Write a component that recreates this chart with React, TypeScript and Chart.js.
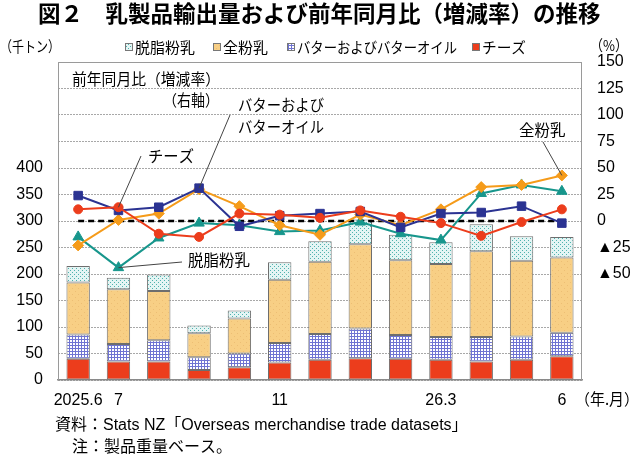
import { useEffect, useRef } from "react";
import { Chart, registerables } from "chart.js";

Chart.register(...registerables);

// 月（ラベルのない月は空文字）
const months = ["2025.6", "7", "", "", "", "11", "", "", "", "26.3", "", "", "6"];

// 輸出量（千トン）
const cheese = [40, 35, 35, 19, 24, 33, 38, 41, 40, 38, 35, 38, 45];
const butter = [46, 33, 40, 24, 26, 37, 49, 56, 45, 43, 46, 44, 44];
const wholeMilk = [98, 103, 93, 45, 66, 119, 136, 159, 141, 138, 162, 143, 142];
const skimMilk = [31, 22, 31, 15, 15, 33, 39, 47, 48, 41, 51, 46, 39];

// 前年同月比（%）
const cheeseYoY = [11, 13, -12, -15, 7, 6, 3, 10, 4, -2, -14, -1, 11];
const butterYoY = [24, 10, 13, 31, -5, 5, 7, 9, -6, 7, 8, 14, -2];
const wholeYoY = [-23, 1, 7, 30, 14, -4, -13, 6, -4, 11, 32, 34, 43];
const skimYoY = [-15, -44, -16, -2, -4, -10, -9, -1, -12, -18, 26, 34, 28];

const NUM = "'Liberation Sans', Arial, 'Noto Sans CJK JP', sans-serif";
const JP = "'Noto Sans CJK JP', 'Liberation Sans', sans-serif";

const C_CHEESE = "#EC3D1C";
const C_BUTTER = "#2B3392";
const C_WHOLE = "#F59B1A";
const C_SKIM = "#17968C";

function makePattern(kind: string) {
  const c = document.createElement("canvas");
  const g = c.getContext("2d") as CanvasRenderingContext2D;
  if (kind === "skim") {
    c.width = 4;
    c.height = 4;
    g.fillStyle = "#E4F5F4";
    g.fillRect(0, 0, 4, 4);
    g.fillStyle = "#4FB2AE";
    g.fillRect(0, 0, 1, 1);
    g.fillRect(2, 2, 1, 1);
  } else if (kind === "whole") {
    c.width = 6;
    c.height = 6;
    g.fillStyle = "#F8CF85";
    g.fillRect(0, 0, 6, 6);
    g.fillStyle = "#EDBE74";
    g.fillRect(0, 0, 1, 1);
    g.fillRect(3, 3, 1, 1);
  } else if (kind === "butter") {
    c.width = 3;
    c.height = 3;
    g.fillStyle = "#FFFFFF";
    g.fillRect(0, 0, 3, 3);
    g.fillStyle = "#6F74D2";
    g.fillRect(0, 0, 3, 1);
    g.fillRect(0, 0, 1, 3);
  } else {
    return C_CHEESE;
  }
  return g.createPattern(c, "repeat") as CanvasPattern;
}

const decorations = {
  id: "decorations",
  beforeDatasetsDraw(chart: any) {
    const { ctx, chartArea } = chart;
    ctx.save();
    ctx.strokeStyle = "#9A9A9A";
    ctx.lineWidth = 1;
    ctx.beginPath();
    ctx.moveTo(chartArea.left + 0.5, chartArea.bottom);
    ctx.lineTo(chartArea.left + 0.5, chartArea.top + 0.5);
    ctx.lineTo(chartArea.right - 0.5, chartArea.top + 0.5);
    ctx.lineTo(chartArea.right - 0.5, chartArea.bottom);
    ctx.stroke();
    ctx.restore();
  },
  beforeDatasetDraw(chart: any, args: any) {
    // 0%の破線は棒の上、折れ線の下
    if (args.index !== 3) return;
    const { ctx } = chart;
    const x = chart.scales.x;
    const y = chart.scales.y1.getPixelForValue(0);
    ctx.save();
    ctx.strokeStyle = "#000";
    ctx.lineWidth = 2.5;
    ctx.setLineDash([6, 4]);
    ctx.beginPath();
    ctx.moveTo(x.getPixelForValue(0), y);
    ctx.lineTo(x.getPixelForValue(12) + 6, y);
    ctx.stroke();
    ctx.restore();
  },
  afterDraw(chart: any) {
    const { ctx, chartArea } = chart;
    const pt = (ds: number, i: number) => chart.getDatasetMeta(ds).data[i];
    ctx.save();
    ctx.fillStyle = "#000";
    ctx.textBaseline = "middle";
    ctx.textAlign = "left";

    // タイトル
    ctx.font = `bold 22.5px ${JP}`;
    ctx.fillText("図２　乳製品輸出量および前年同月比（増減率）の推移", 38, 13, 566);

    // 単位
    ctx.font = `15px ${JP}`;
    ctx.fillText("（千トン）", 0, 46, 60);
    ctx.fillText("（%）", 590, 45, 38);

    // 凡例
    const legend = [
      { label: "脱脂粉乳", fill: makePattern("skim"), x: 125, w: 62 },
      { label: "全粉乳", fill: makePattern("whole"), x: 213, w: 50 },
      { label: "バターおよびバターオイル", fill: makePattern("butter"), x: 287, w: 160 },
      { label: "チーズ", fill: C_CHEESE, x: 472, w: 44 },
    ];
    ctx.font = `15px ${JP}`;
    for (const item of legend) {
      ctx.fillStyle = item.fill;
      ctx.fillRect(item.x, 43, 8, 8);
      ctx.strokeStyle = "#777";
      ctx.lineWidth = 1;
      ctx.strokeRect(item.x + 0.5, 43.5, 7, 7);
      ctx.fillStyle = "#000";
      ctx.fillText(item.label, item.x + 10, 47, item.w);
    }

    // 注記
    ctx.font = `15.5px ${JP}`;
    ctx.fillText("前年同月比（増減率）", chartArea.left + 14, 79, 148);
    ctx.fillText("（右軸）", 163, 100, 56);
    ctx.fillText("バターおよび", 238, 105, 86);
    ctx.fillText("バターオイル", 238, 127, 86);
    ctx.fillText("チーズ", 148, 156, 46);
    ctx.fillText("全粉乳", 519, 130, 48);
    ctx.fillText("脱脂粉乳", 188, 260, 65);

    ctx.strokeStyle = "#444";
    ctx.lineWidth = 1;
    const leader = (x: number, y: number, p: any) => {
      ctx.beginPath();
      ctx.moveTo(x, y);
      ctx.lineTo(p.x, p.y);
      ctx.stroke();
    };
    leader(141, 156, pt(0, 1));
    leader(230, 115, pt(1, 3));
    leader(543, 142, pt(2, 12));
    leader(182, 262, pt(3, 1));

    // 年.月 と 出典
    ctx.font = `15.5px ${JP}`;
    ctx.fillText("（年.月）", 575, 399, 64);
    ctx.font = `16px ${NUM}`;
    ctx.fillText("資料：Stats NZ「Overseas merchandise trade datasets」", 55, 426);
    ctx.fillText("注：製品重量ベース。", 72, 448);
    ctx.restore();
  },
};

export default function App() {
  const canvasRef = useRef<HTMLCanvasElement | null>(null);

  useEffect(() => {
    const ctx = canvasRef.current!.getContext("2d")!;
    const lineStyle = (color: string, pointStyle: string, radius: number) => ({
      type: "line" as const,
      yAxisID: "y1",
      borderColor: color,
      backgroundColor: color,
      borderWidth: 2,
      pointStyle,
      pointRadius: radius,
      pointBorderColor: color,
      pointBorderWidth: 1,
      order: 0,
    });
    const barStyle = (fill: any) => ({
      type: "bar" as const,
      yAxisID: "y",
      backgroundColor: fill,
      borderColor: "#6E6E6E",
      borderWidth: 1,
      borderSkipped: false,
      stack: "vol",
      order: 1,
    });

    const myChart = new Chart(ctx, {
      type: "bar",
      data: {
        labels: months,
        datasets: [
          { label: "チーズ（前年同月比）", data: cheeseYoY, ...lineStyle(C_CHEESE, "circle", 4.5) },
          { label: "バター（前年同月比）", data: butterYoY, ...lineStyle(C_BUTTER, "rect", 6) },
          { label: "全粉乳（前年同月比）", data: wholeYoY, ...lineStyle(C_WHOLE, "rectRot", 5.5) },
          { label: "脱脂粉乳（前年同月比）", data: skimYoY, ...lineStyle(C_SKIM, "triangle", 6) },
          { label: "チーズ", data: cheese, ...barStyle(makePattern("cheese")) },
          { label: "バターおよびバターオイル", data: butter, ...barStyle(makePattern("butter")) },
          { label: "全粉乳", data: wholeMilk, ...barStyle(makePattern("whole")) },
          { label: "脱脂粉乳", data: skimMilk, ...barStyle(makePattern("skim")) },
        ] as any,
      },
      options: {
        responsive: false,
        animation: false,
        datasets: {
          bar: { categoryPercentage: 1, barPercentage: 0.58 },
        },
        layout: { padding: { left: 8, right: 0, top: 62, bottom: 50 } },
        plugins: {
          legend: { display: false },
          tooltip: { enabled: false },
        },
        scales: {
          x: {
            stacked: true,
            offset: true,
            grid: { display: false },
            border: { color: "#8A8A8A", width: 1.5 },
            ticks: {
              color: "#000",
              font: { family: NUM, size: 16 },
              padding: 3,
              autoSkip: false,
              maxRotation: 0,
            },
            afterFit: (s: any) => {
              s.height = 30;
            },
          },
          y: {
            stacked: true,
            position: "left",
            min: 0,
            max: 600,
            grid: { color: "#A8A8A8", lineWidth: 1, drawTicks: false },
            border: { display: false, dash: [2, 1] },
            ticks: {
              stepSize: 50,
              color: "#000",
              padding: 15,
              font: { family: NUM, size: 16 },
              callback: (v: any) => (v <= 400 ? String(v) : ""),
            },
            afterFit: (s: any) => {
              s.width = 50;
            },
          },
          y1: {
            position: "right",
            min: -150,
            max: 150,
            grid: { display: false, drawTicks: false },
            border: { display: false },
            ticks: {
              stepSize: 25,
              color: "#000",
              padding: 15,
              font: { family: NUM, size: 16 },
              callback: (v: any) => (v < -50 ? "" : v < 0 ? "▲" + -v : String(v)),
            },
            afterFit: (s: any) => {
              s.width = 58;
            },
          },
        },
      },
      plugins: [decorations],
    });

    return () => {
      myChart.destroy();
    };
  }, []);

  return (
    <div style={{ position: "absolute", left: 0, top: 0, width: 640, height: 460, background: "#fff" }}>
      <canvas ref={canvasRef} width={640} height={460}></canvas>
    </div>
  );
}
